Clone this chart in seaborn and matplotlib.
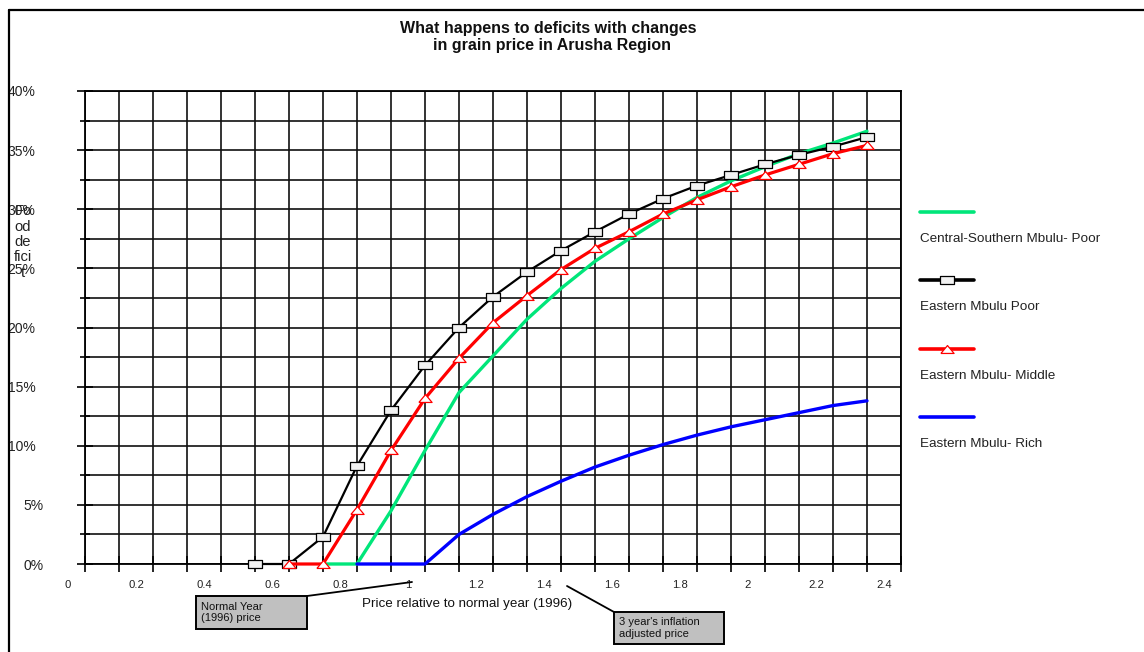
import numpy as np
import pandas as pd
import matplotlib
matplotlib.use("Agg")
import matplotlib.pyplot as plt
from matplotlib.lines import Line2D
from matplotlib.patches import Rectangle
from matplotlib.transforms import blended_transform_factory, ScaledTranslation
import seaborn as sns

# ---- data -------------------------------------------------------------
price_ratio = [0.55, 0.65, 0.75, 0.85, 0.95, 1.05, 1.15, 1.25, 1.35, 1.45,
               1.55, 1.65, 1.75, 1.85, 1.95, 2.05, 2.15, 2.25, 2.35]
nan = np.nan
central_southern_poor = [nan, nan, 0.0, 0.0, 4.5, 9.6, 14.5, 17.6, 20.7, 23.3,
                         25.6, 27.5, 29.3, 31.0, 32.4, 33.6, 34.7, 35.6, 36.6]
eastern_poor = [0.0, 0.0, 2.3, 8.3, 13.0, 16.8, 20.0, 22.6, 24.7, 26.5,
                28.1, 29.6, 30.9, 32.0, 32.9, 33.8, 34.6, 35.3, 36.1]
eastern_middle = [nan, 0.0, 0.0, 4.6, 9.6, 14.0, 17.4, 20.4, 22.7, 24.9,
                  26.7, 28.1, 29.6, 30.8, 31.9, 32.9, 33.8, 34.7, 35.4]
eastern_rich = [nan, nan, nan, 0.0, 0.0, 0.0, 2.5, 4.2, 5.7, 7.0,
                8.2, 9.2, 10.1, 10.9, 11.6, 12.2, 12.8, 13.4, 13.8]

series_names = ["Central-Southern Mbulu- Poor", "Eastern Mbulu Poor",
                "Eastern Mbulu- Middle", "Eastern Mbulu- Rich"]
x_tick_values = [0, 0.2, 0.4, 0.6, 0.8, 1, 1.2, 1.4, 1.6, 1.8, 2, 2.2, 2.4]
x_tick_labels = ["0", "0.2", "0.4", "0.6", "0.8", "1", "1.2", "1.4", "1.6",
                 "1.8", "2", "2.2", "2.4"]
y_tick_values = [0, 5, 10, 15, 20, 25, 30, 35, 40]
y_tick_labels = ["0%", "5%", "10%", "15%", "20%", "25%", "30%", "35%", "40%"]

title = "What happens to deficits with changes\n  in grain price in Arusha Region"
x_title = "Price relative to normal year (1996)"
y_title = "Fo\nod\nde\nfici\nt"

# ---- style ------------------------------------------------------------
sns.set_theme(style="white")
plt.rcParams["font.family"] = ["Liberation Sans", "DejaVu Sans"]

W, H = 1144, 652
fig = plt.figure(figsize=(W / 100, H / 100), dpi=100)
fig.patch.set_facecolor("white")


def fx(px):
    return px / W


def fy(py):
    return 1 - py / H


L, R, T, B = 85, 901, 91, 564
ax = fig.add_axes([fx(L), fy(B), fx(R - L), (B - T) / H])
ax.set_facecolor("white")

df = pd.DataFrame({"price": price_ratio,
                   series_names[0]: central_southern_poor,
                   series_names[1]: eastern_poor,
                   series_names[2]: eastern_middle,
                   series_names[3]: eastern_rich})

rect_marker = [(-1, -0.56), (1, -0.56), (1, 0.56), (-1, 0.56), (-1, -0.56)]
tri_marker = [(-1, -0.6), (1, -0.6), (0, 0.6), (-1, -0.6)]

styles = {
    series_names[0]: dict(color="#00e67a", lw=2.4, marker=None, zorder=3),
    series_names[1]: dict(color="black", lw=1.6, marker=rect_marker, ms=9.5,
                          mfc="#f2f2f2", mec="black", mew=0.9, zorder=4),
    series_names[2]: dict(color="#ff0000", lw=2.3, marker=tri_marker, ms=9.5,
                          mfc="white", mec="#ff0000", mew=0.9, zorder=5),
    series_names[3]: dict(color="#0000ff", lw=2.4, marker=None, zorder=6),
}

for name in series_names:
    st = styles[name]
    kw = dict(color=st["color"], linewidth=st["lw"], zorder=st["zorder"],
              clip_on=False)
    if st["marker"] is not None:
        kw.update(marker=st["marker"], markersize=st["ms"],
                  markerfacecolor=st["mfc"], markeredgecolor=st["mec"],
                  markeredgewidth=st["mew"])
    sns.lineplot(data=df, x="price", y=name, ax=ax, legend=False, **kw)

# ---- axes, grid, ticks -------------------------------------------------
ax.set_xlim(0.05, 2.45)
ax.set_ylim(0, 40)
ax.set_xlabel("")
ax.set_ylabel("")

ax.set_xticks(np.arange(0.05, 2.4501, 0.1))
ax.set_xticklabels([])
ax.set_yticks(y_tick_values)
ax.set_yticks(np.arange(2.5, 40, 5), minor=True)
ax.set_yticklabels(y_tick_labels)
ax.grid(True, which="both", color="#111111", linewidth=1.2, zorder=1)
ax.set_axisbelow(True)
for sp in ax.spines.values():
    sp.set_color("black")
    sp.set_linewidth(1.3)

ax.tick_params(axis="x", which="major", direction="inout", length=11,
               width=1.2, color="black", bottom=True)
ax.tick_params(axis="y", which="major", direction="inout", length=12,
               width=1.2, color="black", left=True, labelsize=10, pad=24,
               labelcolor="#222222")
ax.tick_params(axis="y", which="minor", direction="inout", length=7,
               width=1.2, color="black", left=True)

# two-digit percentage labels sit a little further left
shift = ScaledTranslation(-8 / 100, 0, fig.dpi_scale_trans)
for lab in ax.get_yticklabels():
    if len(lab.get_text()) > 2:
        lab.set_transform(lab.get_transform() + shift)

# price tick labels, offset from the gridlines
xt = blended_transform_factory(ax.transData, ax.transAxes)
for v, lab in zip(x_tick_values, x_tick_labels):
    ax.text(v, -0.045, lab, transform=xt, ha="center", va="center",
            fontsize=8.1, color="#222222", clip_on=False)

# ---- titles --------------------------------------------------------------
fig.text(fx(548), fy(37), title, ha="center", va="center", fontsize=11.5,
         fontweight="bold", color="#111111", linespacing=1.2)
fig.text(fx(467), fy(604), x_title, ha="center", va="center", fontsize=9.6,
         color="#111111")
fig.text(fx(23), fy(242), y_title, ha="center", va="center", fontsize=10.6,
         color="#222222", linespacing=1.12)

# ---- legend: sample line above its label -----------------------------------
legend_rows = [212, 280, 349, 417]
for name, yl in zip(series_names, legend_rows):
    st = styles[name]
    ln = Line2D([fx(920), fx(974)], [fy(yl), fy(yl)], transform=fig.transFigure,
                color=st["color"], linewidth=2.6)
    fig.add_artist(ln)
    if st["marker"] is not None:
        mk = Line2D([fx(947)], [fy(yl)], transform=fig.transFigure,
                    marker=st["marker"], markersize=st["ms"],
                    markerfacecolor=st["mfc"], markeredgecolor=st["mec"],
                    markeredgewidth=st["mew"], linestyle="none")
        fig.add_artist(mk)
    fig.text(fx(920), fy(yl + 27), name, ha="left", va="center", fontsize=9.7,
             color="#222222")

# ---- callout boxes ---------------------------------------------------------
narrow = ["Liberation Sans Narrow", "Liberation Sans", "DejaVu Sans"]


def callout(x0, y0, x1, y1, text, line_from, line_to):
    fig.add_artist(Line2D([fx(line_from[0]), fx(line_to[0])],
                          [fy(line_from[1]), fy(line_to[1])],
                          transform=fig.transFigure, color="black",
                          linewidth=1.3))
    fig.add_artist(Rectangle((fx(x0), fy(y1)), fx(x1 - x0), (y1 - y0) / H,
                             transform=fig.transFigure, facecolor="#c0c0c0",
                             edgecolor="black", linewidth=1.4))
    fig.text(fx(x0 + 5), fy((y0 + y1) / 2), text, ha="left", va="center",
             fontsize=8.0, family=narrow, color="#111111", linespacing=1.2)


callout(196, 596, 307, 629, "Normal Year\n(1996) price", (307, 596), (412, 582))
callout(614, 612, 724, 644, "3 year's inflation\nadjusted price",
        (614, 612), (567, 586))

# ---- outer frame (top and left edges) --------------------------------------
fig.add_artist(Line2D([fx(9), 1.0], [fy(10), fy(10)], transform=fig.transFigure,
                      color="black", linewidth=1.6))
fig.add_artist(Line2D([fx(9), fx(9)], [fy(10), 0.0], transform=fig.transFigure,
                      color="black", linewidth=1.6))

fig.savefig("out.png", dpi=100, facecolor="white")
